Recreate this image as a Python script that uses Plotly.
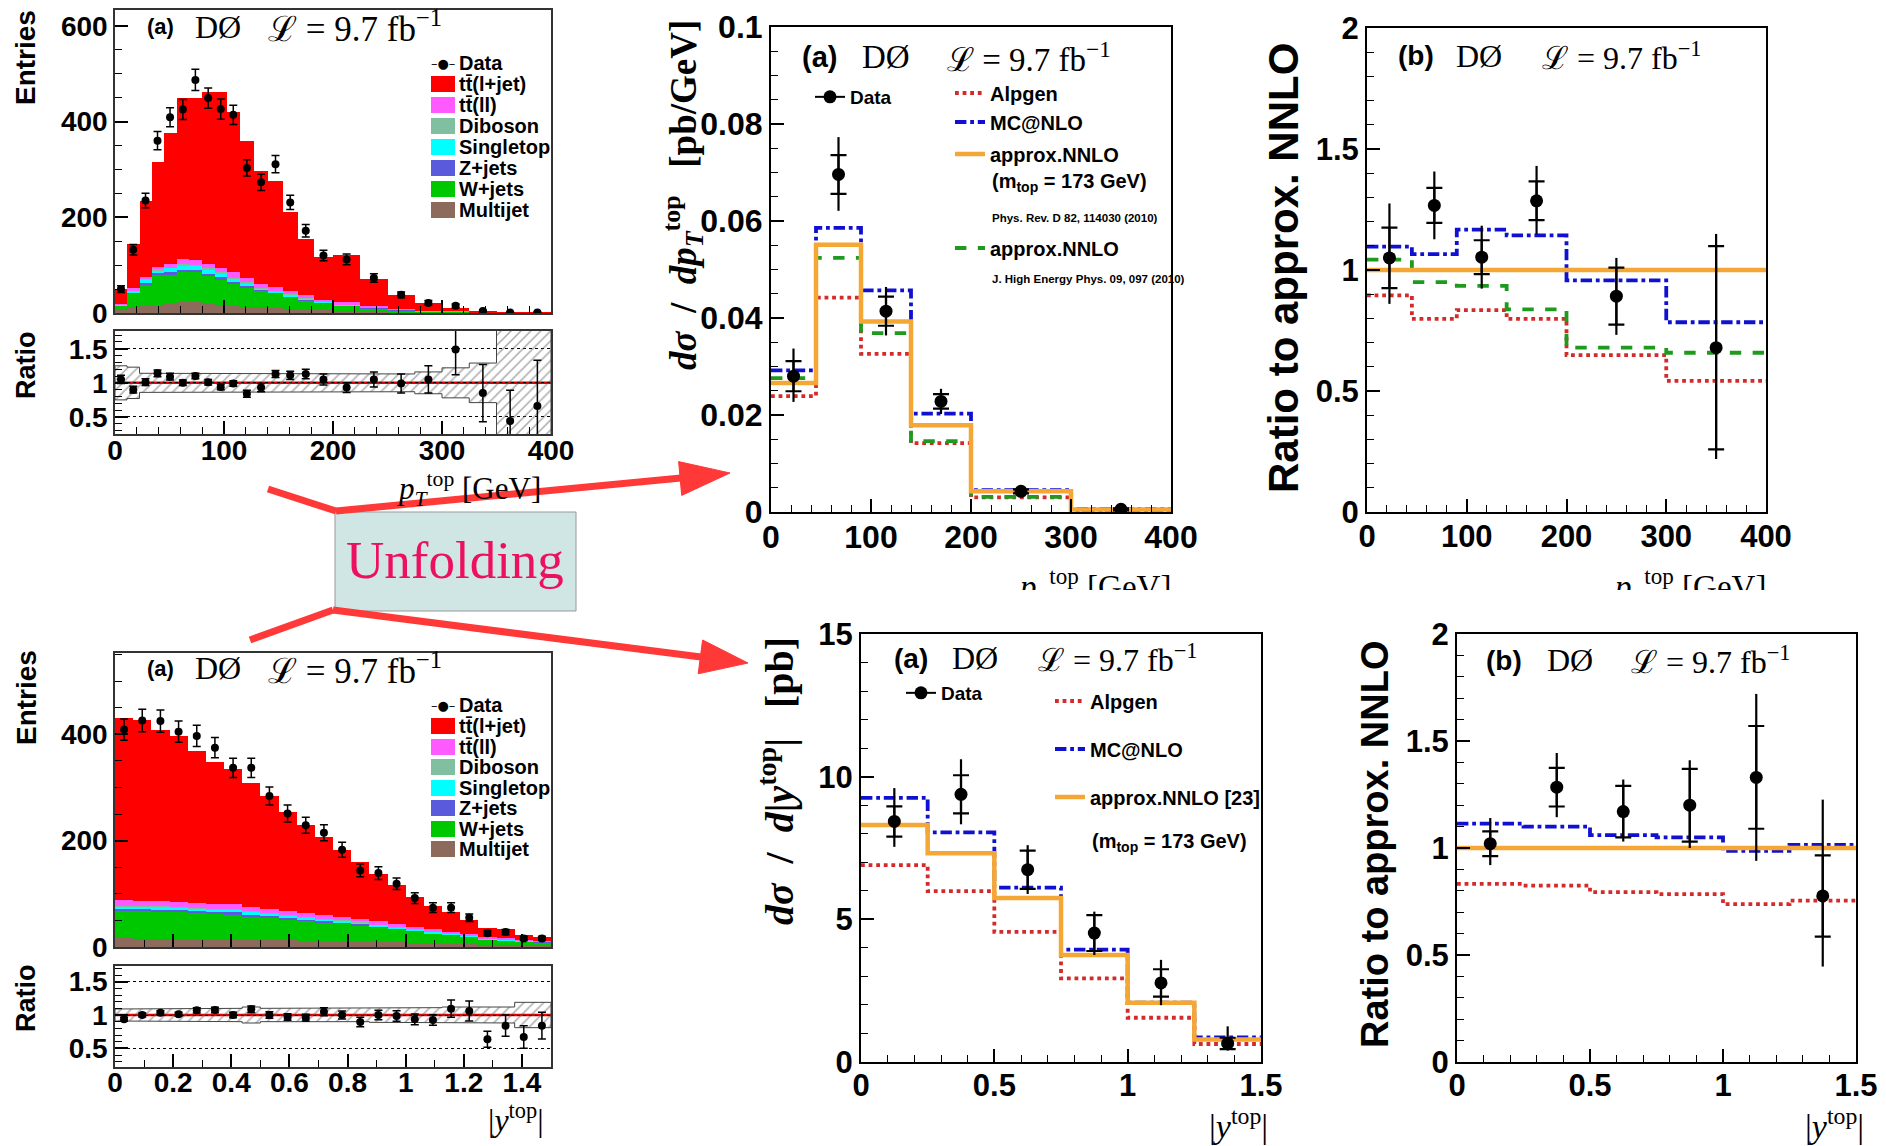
import plotly.graph_objects as go

W, H = 1886, 1146

# ---------------- reco-level top pT (top-left) ----------------
pt_reco_edges = [0, 11, 22.5, 33.5, 44.5, 56.5, 68, 79.5, 91.5, 102.5, 114.5, 127.5, 140.5,
                 154, 167.5, 182.5, 200, 225, 250, 275, 300, 325, 350, 375, 400]
pt_reco_data = [50, 132, 235, 360, 409, 425, 487, 449, 426, 414, 303, 273, 311, 231, 172,
                120, 112, 73, 38, 21, 15, 4, 1, 1]
pt_reco_data_err = [7, 11, 15, 19, 20, 21, 22, 21, 21, 20, 17, 17, 18, 15, 13, 11, 11, 9,
                    6, 5, 4, 2, 1, 1]
pt_multijet = [8, 12, 15, 17, 19, 24, 24, 20, 17, 15, 13, 12, 10, 8, 7, 6, 5, 3, 2, 1, 1, 0.5, 0.3, 0.2]
pt_wjets = [7, 28, 45, 63, 62, 61, 61, 58, 54, 47, 41, 35, 31, 26, 19, 14, 10, 7, 4, 2.5, 1.5, 1, 0.5, 0.3]
pt_zjets = [1, 2, 3, 3.5, 4, 5, 4.5, 4, 3.5, 3, 2.5, 1.5, 1.5, 1.5, 1.5, 1, 1, 0.5, 0.3, 0.2, 0.1, 0.1, 0, 0]
pt_singletop = [1, 4, 6, 6, 9, 10, 9, 9, 8, 7, 6, 3, 3, 3, 3, 2, 1.5, 1, 0.5, 0.3, 0.2, 0.1, 0, 0]
pt_diboson = [0.5, 2, 2, 1.5, 1, 2, 1.5, 2, 2.5, 2, 1.5, 0.5, 0.5, 0.5, 0.5, 1, 0.5, 0.5, 0.2, 0.2, 0.1, 0, 0, 0]
pt_ttll = [1, 4, 5, 5, 7, 11, 11, 9, 10, 11, 10, 8, 8, 7, 7, 4, 4, 3, 2, 1, 0.5, 0.3, 0.1, 0.1]
pt_ttlj = [32.5, 93, 159, 220, 274, 336, 338, 359, 366, 334, 286, 237, 222, 164, 117, 90, 99,
           56, 29, 14.8, 6.6, 3, 1.1, 0.4]
pt_reco_ratio = [1.05, 0.90, 1.01, 1.14, 1.09, 1.0, 1.10, 1.01, 0.94, 0.99, 0.84, 0.93, 1.13,
                 1.11, 1.13, 1.05, 0.93, 1.05, 0.99, 1.05, 1.49, 0.85, 0.44, 0.66]
pt_reco_ratio_err = [0.06, 0.05, 0.05, 0.05, 0.05, 0.04, 0.04, 0.04, 0.04, 0.04, 0.05, 0.06,
                     0.05, 0.06, 0.07, 0.08, 0.07, 0.11, 0.14, 0.2, 0.37, 0.42, 0.45, 0.67]
pt_reco_band = [0.25, 0.23, 0.14, 0.13, 0.13, 0.13, 0.13, 0.13, 0.13, 0.13, 0.13, 0.13, 0.13,
                0.14, 0.14, 0.14, 0.13, 0.13, 0.13, 0.16, 0.22, 0.29, 1.0, 1.0]

# ---------------- reco-level |y top| (bottom-left) ----------------
y_reco_edges = [0, 0.0625, 0.125, 0.1875, 0.25, 0.3125, 0.375, 0.4375, 0.5, 0.5625, 0.625,
                0.6875, 0.75, 0.8125, 0.875, 0.9375, 1.0, 1.0625, 1.125, 1.1875, 1.25,
                1.3125, 1.375, 1.4375, 1.5]
y_reco_data = [409, 426, 425, 405, 397, 375, 337, 337, 284, 251, 229, 215, 183, 144, 139, 119,
               92, 74, 74, 55, 26, 28, 16, 16]
y_reco_data_err = [20, 21, 21, 20, 20, 19, 18, 18, 17, 16, 15, 15, 14, 12, 12, 11, 10, 9, 9, 7,
                   5, 5, 4, 4]
y_multijet = [16, 15, 15, 14, 14, 13, 13, 14, 14, 13, 12, 12, 11, 11, 10, 9, 8, 7, 6, 5, 4, 3, 3, 3]
y_wjets = [52, 53, 52, 52, 50, 50, 49, 44, 41, 39, 37, 34, 33, 30, 27, 24, 21, 18, 16, 14, 10, 9, 7, 6]
y_zjets = [3, 3, 3, 3, 3, 3, 3, 3, 2.5, 2.5, 2, 2, 2, 2, 1.5, 1.5, 1.5, 1, 1, 1, 0.8, 0.8, 0.6, 0.5]
y_singletop = [6, 6, 6, 6, 6, 5, 5, 5, 5, 5, 5, 4, 4, 4, 3, 3, 3, 2.5, 2, 2, 1.5, 1.5, 1.2, 1]
y_diboson = [1, 1, 1, 1, 1, 1, 1, 1, 1, 1, 1, 1, 1, 1, 0.5, 0.5, 0.5, 0.5, 0.5, 0.5, 0.3, 0.3, 0.2, 0.2]
y_ttll = [10, 9, 9, 9, 9, 9, 9, 9, 8.5, 7.5, 7, 7, 6, 5, 6, 5, 4, 4, 3.5, 2.5, 2.4, 2.4, 2, 1.3]
y_ttlj = [342, 340, 323, 311, 286, 267, 254, 233, 212, 186, 165, 147, 125, 107, 90, 73, 56, 45,
          37, 25, 16, 16, 8, 7]
y_reco_ratio = [0.935, 1.0, 1.035, 1.01, 1.07, 1.075, 1.0, 1.085, 1.0, 0.97, 0.96, 1.05, 1.0,
                0.895, 1.0, 0.985, 0.935, 0.925, 1.095, 1.06, 0.636, 0.84, 0.67, 0.84]
y_reco_ratio_err = [0.03, 0.03, 0.03, 0.03, 0.04, 0.04, 0.04, 0.05, 0.05, 0.05, 0.05, 0.06, 0.06,
                    0.07, 0.07, 0.08, 0.08, 0.08, 0.13, 0.15, 0.12, 0.16, 0.17, 0.2]
y_reco_band = [0.09, 0.09, 0.09, 0.09, 0.09, 0.09, 0.1, 0.12, 0.1, 0.1, 0.1, 0.1, 0.1, 0.1, 0.11,
               0.11, 0.11, 0.11, 0.12, 0.12, 0.12, 0.12, 0.19, 0.19]

# ---------------- unfolded d sigma / d pT (top-middle) ----------------
pt_edges = [0, 45, 90, 140, 200, 300, 400]
pt_xsec_data = [0.0280, 0.0696, 0.0414, 0.0228, 0.00426, 0.00055]
pt_xsec_stat = [0.0031, 0.0040, 0.0030, 0.0015, 0.0004, 0.0002]
pt_xsec_tot_up = [0.0057, 0.0077, 0.0050, 0.0026, 0.0007, 0.0003]
pt_xsec_tot_dn = [0.0053, 0.0075, 0.0050, 0.0026, 0.0007, 0.0003]
pt_alpgen = [0.0239, 0.0442, 0.0326, 0.0142, 0.0030, 0.0004]
pt_mcnlo = [0.0292, 0.0586, 0.0457, 0.0203, 0.0045, 0.0006]
pt_nnlo = [0.0266, 0.0551, 0.0393, 0.0179, 0.0043, 0.0005]
pt_nnlo_b = [0.0276, 0.0524, 0.0369, 0.0146, 0.0031, 0.0003]

# ---------------- ratio to approx. NNLO vs pT (top-right) ----------------
pt_ratio_data = [1.05, 1.267, 1.053, 1.286, 0.892, 0.679]
pt_ratio_stat = [0.125, 0.072, 0.07, 0.08, 0.118, 0.42]
pt_ratio_tot_up = [0.225, 0.14, 0.13, 0.144, 0.158, 0.47]
pt_ratio_tot_dn = [0.19, 0.14, 0.13, 0.138, 0.16, 0.46]
pt_ratio_alpgen = [0.895, 0.798, 0.834, 0.798, 0.648, 0.542]
pt_ratio_mcnlo = [1.097, 1.066, 1.167, 1.143, 0.957, 0.784]
pt_ratio_nnlo = [1, 1, 1, 1, 1, 1]
pt_ratio_nnlo_b = [1.043, 0.95, 0.934, 0.837, 0.679, 0.658]

# ---------------- unfolded d sigma / d|y| (bottom-middle) ----------------
y_edges = [0, 0.25, 0.5, 0.75, 1.0, 1.25, 1.5]
y_xsec_data = [8.43, 9.38, 6.74, 4.52, 2.77, 0.65]
y_xsec_stat = [0.53, 0.67, 0.67, 0.63, 0.48, 0.2]
y_xsec_tot_up = [1.17, 1.23, 0.86, 0.75, 0.81, 0.6]
y_xsec_tot_dn = [0.89, 1.05, 0.85, 0.77, 0.78, 0.25]
y_alpgen = [6.90, 5.99, 4.56, 2.93, 1.55, 0.63]
y_mcnlo = [9.26, 8.05, 6.11, 3.94, 2.08, 0.86]
y_nnlo = [8.31, 7.32, 5.75, 3.75, 2.08, 0.79]

# ---------------- ratio to approx. NNLO vs |y| (bottom-right) ----------------
y_ratio_data = [1.02, 1.284, 1.17, 1.20, 1.33, 0.776]
y_ratio_stat = [0.058, 0.09, 0.12, 0.17, 0.24, 0.19]
y_ratio_tot_up = [0.12, 0.16, 0.15, 0.21, 0.39, 0.45]
y_ratio_tot_dn = [0.10, 0.14, 0.14, 0.20, 0.39, 0.33]
y_ratio_alpgen = [0.832, 0.824, 0.794, 0.784, 0.738, 0.754]
y_ratio_mcnlo = [1.114, 1.10, 1.06, 1.05, 0.987, 1.014]
y_ratio_nnlo = [1, 1, 1, 1, 1, 1]

# ---------------- styling ----------------
SANS = "Liberation Sans, Arial, sans-serif"
SERIF = "Liberation Serif, DejaVu Serif, serif"
C_ALP, C_MC, C_NNLO, C_NNLO_B = "#D42A2A", "#1010D0", "#F5A735", "#1E9A1E"
RED = "#FF3838"
stack_names = ["Multijet", "W+jets", "Z+jets", "Singletop", "Diboson", "tt̄(ll)", "tt̄(l+jet)"]
stack_colors = ["#8C6B5C", "#00C800", "#5A5ADC", "#00FFFF", "#80C0A0", "#FF5AFF", "#FF0000"]
NB = "&nbsp;"


def X(p):
    return p / W


def Y(p):
    return 1 - p / H


def centers(e):
    return [(e[i] + e[i + 1]) / 2 for i in range(len(e) - 1)]


def widths(e):
    return [e[i + 1] - e[i] for i in range(len(e) - 1)]


def band_poly(e, hw):
    xs, ys = [], []
    for i in range(len(hw)):
        xs += [e[i], e[i + 1]]
        ys += [1 + hw[i], 1 + hw[i]]
    for i in reversed(range(len(hw))):
        xs += [e[i + 1], e[i]]
        ys += [1 - hw[i], 1 - hw[i]]
    return xs + [xs[0]], ys + [ys[0]]


fig = go.Figure()


def add_reco(edges, comps, data, data_err, ratio, ratio_err, band, xa, ya, xr, yr):
    c, w = centers(edges), widths(edges)
    for name, col, vals in zip(stack_names, stack_colors, comps):
        fig.add_trace(go.Bar(x=c, y=vals, width=w, marker=dict(color=col, line=dict(width=0)),
                             name=name, showlegend=False, xaxis=xa, yaxis=ya))
    fig.add_trace(go.Scatter(x=c, y=data, mode="markers", marker=dict(color="black", size=8),
                             error_y=dict(type="data", array=data_err, color="black", thickness=1.5, width=4),
                             showlegend=False, xaxis=xa, yaxis=ya))
    bx, by = band_poly(edges, band)
    fig.add_trace(go.Scatter(x=bx, y=by, mode="lines", fill="toself", fillcolor="rgba(0,0,0,0)",
                             fillpattern=dict(shape="/", fgcolor="#555", bgcolor="rgba(0,0,0,0)", size=7, solidity=0.22),
                             line=dict(color="#444", width=1), showlegend=False, hoverinfo="skip",
                             xaxis=xr, yaxis=yr))
    fig.add_trace(go.Scatter(x=c, y=ratio, mode="markers", marker=dict(color="black", size=8),
                             error_y=dict(type="data", array=ratio_err, color="black", thickness=1.5, width=4),
                             showlegend=False, xaxis=xr, yaxis=yr))


add_reco(pt_reco_edges, [pt_multijet, pt_wjets, pt_zjets, pt_singletop, pt_diboson, pt_ttll, pt_ttlj],
         pt_reco_data, pt_reco_data_err, pt_reco_ratio, pt_reco_ratio_err, pt_reco_band, "x", "y", "x2", "y2")
add_reco(y_reco_edges, [y_multijet, y_wjets, y_zjets, y_singletop, y_diboson, y_ttll, y_ttlj],
         y_reco_data, y_reco_data_err, y_reco_ratio, y_reco_ratio_err, y_reco_band, "x3", "y3", "x4", "y4")


def step(edges, vals, color, dash, width, xa, ya, name=None, legend=None):
    fig.add_trace(go.Scatter(x=list(edges), y=list(vals) + [vals[-1]], mode="lines",
                             line=dict(shape="hv", color=color, dash=dash, width=width),
                             name=name, showlegend=legend is not None, legend=legend or "legend",
                             xaxis=xa, yaxis=ya))


def data_pts(edges, vals, stat, up, dn, xa, ya):
    c = centers(edges)
    fig.add_trace(go.Scatter(x=c, y=vals, mode="markers", marker=dict(color="black", size=13),
                             error_y=dict(type="data", symmetric=False, array=up, arrayminus=dn,
                                          color="black", thickness=2.2, width=0),
                             showlegend=False, xaxis=xa, yaxis=ya))
    fig.add_trace(go.Scatter(x=c, y=vals, mode="markers", marker=dict(color="rgba(0,0,0,0)", size=1),
                             error_y=dict(type="data", array=stat, color="black", thickness=2.2, width=8),
                             showlegend=False, xaxis=xa, yaxis=ya))


def data_legend(legend, xa, ya):
    fig.add_trace(go.Scatter(x=[None], y=[None], mode="lines+markers", name="Data",
                             marker=dict(color="black", size=13), line=dict(color="black", width=2),
                             legend=legend, xaxis=xa, yaxis=ya))


# top-middle
step(pt_edges, pt_alpgen, C_ALP, "dot", 3.8, "x5", "y5", "Alpgen", "legend2")
step(pt_edges, pt_mcnlo, C_MC, "dashdot", 3.8, "x5", "y5", "MC@NLO", "legend3")
step(pt_edges, pt_nnlo_b, C_NNLO_B, "dash", 3.8, "x5", "y5", "approx.NNLO", "legend5")
step(pt_edges, pt_nnlo, C_NNLO, "solid", 4.5, "x5", "y5", "approx.NNLO", "legend4")
data_pts(pt_edges, pt_xsec_data, pt_xsec_stat, pt_xsec_tot_up, pt_xsec_tot_dn, "x5", "y5")
data_legend("legend", "x5", "y5")

# top-right
step(pt_edges, pt_ratio_alpgen, C_ALP, "dot", 3.8, "x6", "y6")
step(pt_edges, pt_ratio_mcnlo, C_MC, "dashdot", 3.8, "x6", "y6")
step(pt_edges, pt_ratio_nnlo_b, C_NNLO_B, "dash", 3.8, "x6", "y6")
step(pt_edges, pt_ratio_nnlo, C_NNLO, "solid", 4.5, "x6", "y6")
data_pts(pt_edges, pt_ratio_data, pt_ratio_stat, pt_ratio_tot_up, pt_ratio_tot_dn, "x6", "y6")

# bottom-middle
step(y_edges, y_alpgen, C_ALP, "dot", 3.8, "x7", "y7", "Alpgen", "legend7")
step(y_edges, y_mcnlo, C_MC, "dashdot", 3.8, "x7", "y7", "MC@NLO", "legend8")
step(y_edges, y_nnlo, C_NNLO, "solid", 4.5, "x7", "y7", "approx.NNLO [23]", "legend9")
data_pts(y_edges, y_xsec_data, y_xsec_stat, y_xsec_tot_up, y_xsec_tot_dn, "x7", "y7")
data_legend("legend6", "x7", "y7")

# bottom-right
step(y_edges, y_ratio_alpgen, C_ALP, "dot", 3.8, "x8", "y8")
step(y_edges, y_ratio_mcnlo, C_MC, "dashdot", 3.8, "x8", "y8")
step(y_edges, y_ratio_nnlo, C_NNLO, "solid", 4.5, "x8", "y8")
data_pts(y_edges, y_ratio_data, y_ratio_stat, y_ratio_tot_up, y_ratio_tot_dn, "x8", "y8")


def axis(x0, x1, rng, dtick, minor, anchor, labels=True, size=25, lw=2, lc="black", grid=False,
         horizontal=True, standoff=0):
    dom = [X(x0), X(x1)] if horizontal else [Y(x1), Y(x0)]
    d = dict(domain=dom, range=rng, dtick=dtick, tick0=0, anchor=anchor, showline=True, mirror=True,
             linecolor=lc, linewidth=lw, ticks="inside", ticklen=13, tickwidth=1.5, tickcolor="black",
             minor=dict(dtick=minor, tick0=0, ticks="inside", ticklen=7, tickwidth=1.2, tickcolor="black"),
             showticklabels=labels, tickfont=dict(family=SANS, size=size, color="black", weight="bold"),
             showgrid=grid, zeroline=False, fixedrange=True, automargin=False, ticklabelstandoff=standoff)
    if grid:
        d.update(gridcolor="black", griddash="dot", gridwidth=1)
    return d


layout_axes = dict(
    xaxis=axis(115, 551, [0, 400], 100, 20, "y", labels=False, lw=1.5, lc="#333"),
    yaxis=axis(10, 313, [0, 633], 200, 50, "x", size=28, lw=1.5, lc="#333", horizontal=False),
    xaxis2=axis(115, 551, [0, 400], 100, 20, "y2", size=28, lw=1.5, lc="#333", standoff=-9),
    yaxis2=axis(331, 434, [0.25, 1.76], 0.5, 0.1, "x2", size=28, lw=1.5, lc="#333", grid=True, horizontal=False),
    xaxis3=axis(115, 551, [0, 1.5], 0.2, 0.1, "y3", labels=False, lw=1.5, lc="#333"),
    yaxis3=axis(653, 947, [0, 553], 200, 50, "x3", size=28, lw=1.5, lc="#333", horizontal=False),
    xaxis4=axis(115, 551, [0, 1.5], 0.2, 0.1, "y4", size=28, lw=1.5, lc="#333", standoff=-10),
    yaxis4=axis(966, 1067, [0.22, 1.735], 0.5, 0.1, "x4", size=28, lw=1.5, lc="#333", grid=True, horizontal=False),
    xaxis5=axis(771, 1171, [0, 400], 100, 20, "y5", size=32, standoff=-4),
    yaxis5=axis(27, 512, [0, 0.1], 0.02, 0.005, "x5", size=32, horizontal=False),
    xaxis6=axis(1367, 1766, [0, 400], 100, 20, "y6", size=31, standoff=-4),
    yaxis6=axis(28, 512, [0, 2], 0.5, 0.1, "x6", size=31, horizontal=False),
    xaxis7=axis(861, 1261, [0, 1.5], 0.5, 0.1, "y7", size=31, standoff=-5),
    yaxis7=axis(634, 1062, [0, 15], 5, 1, "x7", size=31, horizontal=False),
    xaxis8=axis(1457, 1856, [0, 1.5], 0.5, 0.1, "y8", size=31, standoff=-5),
    yaxis8=axis(634, 1062, [0, 2], 0.5, 0.1, "x8", size=31, horizontal=False),
)

annotations = []


def ann(x, y, text, size, family=SANS, bold=True, color="black", xanchor="left", yanchor="middle", angle=0, **kw):
    annotations.append(dict(x=X(x), y=Y(y), xref="paper", yref="paper", text=text, showarrow=False,
                            xanchor=xanchor, yanchor=yanchor, textangle=angle,
                            font=dict(family=family, size=size, color=color, weight="bold" if bold else "normal"),
                            **kw))


LUMI = "ℒ" + NB + "=" + NB + "9.7" + NB + "fb<sup>−1</sup>"
# panel labels: (x of label, x of DØ, x of lumi, y, size label, size DØ, size lumi, label)
for (xa, xd, xl, yy, s1, s2, s3, lab) in [(145, 193, 266, 27, 22, 32, 35, "(a)"),
                                          (145, 193, 266, 668, 22, 32, 35, "(a)"),
                                          (800, 860, 945, 57, 29, 33, 33, "(a)"),
                                          (1396, 1454, 1540, 56, 28, 32, 32, "(b)"),
                                          (892, 950, 1036, 658, 28, 32, 32, "(a)"),
                                          (1484, 1545, 1629, 660, 28, 32, 32, "(b)")]:
    ann(xa, yy, lab, s1)
    ann(xd, yy, "DØ", s2, family=SERIF, bold=False)
    ann(xl, yy, LUMI, s3, family=SERIF, bold=False)

# axis titles
ann(26, 58, "Entries", 28, xanchor="center", angle=-90)
ann(26, 365, "Ratio", 27, xanchor="center", angle=-90)
ann(26, 698, "Entries", 28, xanchor="center", angle=-90)
ann(26, 998, "Ratio", 27, xanchor="center", angle=-90)
PT_TITLE = "<i>p</i><sub><i>T</i></sub><sup>top</sup>" + NB + "[GeV]"
Y_TITLE = "|<i>y</i><sup>top</sup>|"
ann(543, 489, PT_TITLE, 31, family=SERIF, bold=False, xanchor="right")
ann(546, 1118, Y_TITLE, 32, family=SERIF, bold=False, xanchor="right")
ann(1173, 561, PT_TITLE, 33, family=SERIF, bold=False, xanchor="right", yanchor="top", height=27, valign="top")
ann(1768, 561, PT_TITLE, 33, family=SERIF, bold=False, xanchor="right", yanchor="top", height=27, valign="top")
ann(1270, 1124, Y_TITLE, 34, family=SERIF, bold=False, xanchor="right")
ann(1866, 1124, Y_TITLE, 34, family=SERIF, bold=False, xanchor="right")
ann(683, 195, "<i>dσ</i>" + NB * 2 + "/" + NB * 2 + "<i>dp</i><sub><i>T</i></sub><sup>top</sup>" + NB * 3 + "[pb/GeV]",
    37, family=SERIF, xanchor="center", angle=-90)
ann(776, 781, "<i>dσ</i>" + NB * 2 + "/" + NB * 2 + "<i>d</i>|<i>y</i><sup>top</sup>|" + NB * 3 + "[pb]",
    40, family=SERIF, xanchor="center", angle=-90)
ann(1283, 268, "Ratio to approx. NNLO", 42, xanchor="center", angle=-90)
ann(1375, 845, "Ratio to approx. NNLO", 38, xanchor="center", angle=-90)

# legend extra lines
ann(990, 182, "(m<sub>top</sub> = 173 GeV)", 20)
ann(990, 218, "Phys. Rev. D 82, 114030 (2010)", 11.5)
ann(990, 279, "J. High Energy Phys. 09, 097 (2010)", 11.5)
ann(1090, 842, "(m<sub>top</sub> = 173 GeV)", 20)

shapes = []

# manual legends for the reco-level stacks
leg_entries = [("Data", None), ("tt̄(l+jet)", "#FF0000"), ("tt̄(ll)", "#FF5AFF"), ("Diboson", "#80C0A0"),
               ("Singletop", "#00FFFF"), ("Z+jets", "#5A5ADC"), ("W+jets", "#00C800"), ("Multijet", "#8C6B5C")]
for rows in ([63, 84, 105, 126, 147, 168, 189, 210], [705, 726, 747, 767, 788, 808, 829, 849]):
    for (txt, col), ry in zip(leg_entries, rows):
        ann(457, ry, txt, 20)
        if col is None:
            ann(443, ry, "–●–", 13, family="DejaVu Sans", bold=False, xanchor="center")
        else:
            shapes.append(dict(type="rect", xref="paper", yref="paper", x0=X(431), x1=X(455),
                               y0=Y(ry + 8), y1=Y(ry - 8), fillcolor=col, line=dict(width=0), layer="above"))

# unfolding box text
ann(455, 560, "Unfolding", 53, family=SERIF, bold=False, color="#EE1060", xanchor="center")

shapes += [
    dict(type="line", xref="x2 domain", x0=0, x1=1, yref="y2", y0=1, y1=1, line=dict(color="#E00000", width=2.5), layer="below"),
    dict(type="line", xref="x4 domain", x0=0, x1=1, yref="y4", y0=1, y1=1, line=dict(color="#E00000", width=2.5), layer="below"),
    dict(type="rect", xref="paper", yref="paper", x0=X(335), x1=X(576), y0=Y(611), y1=Y(512),
         fillcolor="#CFE6E4", line=dict(color="#999", width=1), layer="above"),
]
for (a, b) in [((268, 489), (336, 511)), ((336, 511), (681, 478)), ((250, 640), (333, 610)), ((333, 610), (701, 657))]:
    shapes.append(dict(type="line", xref="paper", yref="paper", x0=X(a[0]), y0=Y(a[1]), x1=X(b[0]), y1=Y(b[1]),
                       line=dict(color=RED, width=7), layer="above"))
for tri in [[(730, 473), (678.6, 461.6), (681.7, 495.4)], [(748, 663), (698.2, 673.8), (702.6, 640)]]:
    p = "M " + " L ".join(f"{X(u):.5f},{Y(v):.5f}" for u, v in tri) + " Z"
    shapes.append(dict(type="path", xref="paper", yref="paper", path=p, fillcolor=RED,
                       line=dict(color=RED, width=1), layer="above"))


def leg(x_text, y_center, size=20):
    return dict(x=X(x_text - 40), y=Y(y_center), xanchor="left", yanchor="middle", bgcolor="rgba(0,0,0,0)",
                borderwidth=0, font=dict(family=SANS, size=size, color="black", weight="bold"),
                itemwidth=30, traceorder="normal", itemclick=False, itemdoubleclick=False)


fig.update_layout(
    width=W, height=H, margin=dict(l=0, r=0, t=0, b=0, pad=0, autoexpand=False),
    paper_bgcolor="white", plot_bgcolor="white",
    barmode="stack", bargap=0, showlegend=True,
    annotations=annotations, shapes=shapes,
    legend=leg(850, 97, 19), legend2=leg(990, 93), legend3=leg(990, 122), legend4=leg(990, 154),
    legend5=leg(990, 248), legend6=leg(941, 693, 19), legend7=leg(1090, 701), legend8=leg(1090, 749),
    legend9=leg(1090, 797),
    **layout_axes,
)

fig.write_html("out.html")
